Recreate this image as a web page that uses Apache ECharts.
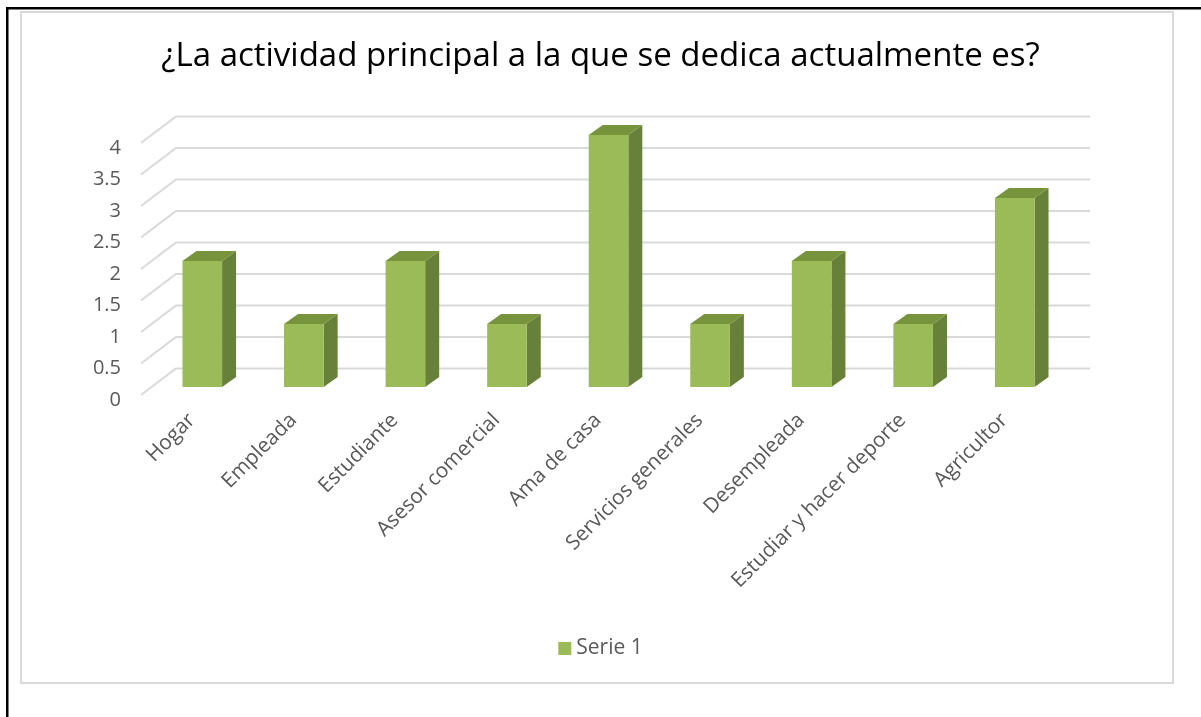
<!DOCTYPE html>
<html>
<head>
<meta charset="utf-8">
<script src="https://cdn.jsdelivr.net/npm/echarts@6/dist/echarts.min.js"></script>
<style>
html,body{margin:0;padding:0;background:#fff;}
#chart{width:1201px;height:717px;}
</style>
</head>
<body>
<div id="chart"></div>
<script>
const titleText = '¿La actividad principal a la que se dedica actualmente es?';
const categories = ['Hogar','Empleada','Estudiante','Asesor comercial','Ama de casa','Servicios generales','Desempleada','Estudiar y hacer deporte','Agricultor'];
const serieName = 'Serie 1';
const values = [2, 1, 2, 1, 4, 1, 2, 1, 3];
const yTicks = [0, 0.5, 1, 1.5, 2, 2.5, 3, 3.5, 4];

const FONT = 'Open Sans';
const DX = 35, DY = -26.6;      // wall depth
const F1 = 0.3;                 // bar front depth fraction
const BDX = 14, BDY = -10;      // bar depth
const COL_FRONT = '#9BBB59', COL_SIDE = '#67803A', COL_TOP = '#77933C';

const chart = echarts.init(document.getElementById('chart'), null, {renderer:'canvas'});
chart.setOption({
  animation: false,
  backgroundColor: '#fff',
  textStyle: {fontFamily: FONT},
  title: {
    text: titleText, left: 'center', top: 35,
    textStyle: {fontFamily: FONT, fontSize: 33, fontWeight: 'normal', color: '#000'}
  },
  graphic: [
    {type:'rect', shape:{x:21, y:12, width:1152, height:671}, style:{fill:'none', stroke:'#D9D9D9', lineWidth:2}, silent:true, z:-10},
    {type:'rect', shape:{x:6, y:7, width:2.5, height:720}, style:{fill:'#000'}, silent:true},
    {type:'rect', shape:{x:6, y:7, width:1200, height:2.5}, style:{fill:'#000'}, silent:true}
  ],
  legend: {
    data: [serieName], left: 'center', top: 633,
    icon: 'rect', itemWidth: 13, itemHeight: 13, itemGap: 6,
    textStyle: {fontFamily: FONT, fontSize: 21, color: '#595959'}
  },
  grid: {left: 141, right: 146, top: 143, bottom: 322, containLabel: false},
  xAxis: {
    type: 'category', data: categories,
    axisLine: {show:false}, axisTick: {show:false}, splitLine: {show:false},
    axisLabel: {rotate: 45, margin: 22, interval: 0, fontFamily: FONT, fontSize: 20.7, color: '#595959'}
  },
  yAxis: {
    type: 'value', min: 0, max: 4, interval: 0.5,
    axisLine: {show:false}, axisTick: {show:false}, splitLine: {show:false},
    axisLabel: {
      margin: 20, formatter: '{v|{value}}',
      rich: {v: {padding: [10, 0, 0, 0], fontFamily: FONT, fontSize: 20, color: '#595959'}}
    }
  },
  series: [
    {
      type: 'custom', name: 'grid', silent: true, z: 1,
      data: yTicks.map(v => [0, v]),
      renderItem: function (params, api) {
        const cs = params.coordSys;
        const y = api.coord([0, api.value(1)])[1];
        const x0 = cs.x, x1 = cs.x + cs.width;
        return {
          type: 'polyline',
          shape: {points: [[x0, y], [x0 + DX, y + DY], [x1 + DX, y + DY]]},
          style: {stroke: '#D9D9D9', lineWidth: 2, fill: null}
        };
      }
    },
    {
      type: 'custom', name: serieName, z: 2,
      itemStyle: {color: COL_FRONT},
      data: values.map((v, i) => [i, v]),
      renderItem: function (params, api) {
        const i = api.value(0), v = api.value(1);
        const pTop = api.coord([i, v]);
        const pBase = api.coord([i, 0]);
        const w = api.size([1, 0])[0] * 0.39;
        const ox = DX * F1, oy = DY * F1;
        const xl = pTop[0] - w / 2 + ox, xr = pTop[0] + w / 2 + ox;
        const yt = pTop[1] + oy, yb = pBase[1] + oy;
        return {
          type: 'group',
          children: [
            {type: 'polygon', shape: {points: [[xr, yt], [xr + BDX, yt + BDY], [xr + BDX, yb + BDY], [xr, yb]]},
             style: {fill: COL_SIDE}},
            {type: 'polygon', shape: {points: [[xl, yt], [xl + BDX, yt + BDY], [xr + BDX, yt + BDY], [xr, yt]]},
             style: {fill: COL_TOP}},
            {type: 'rect', shape: {x: xl, y: yt, width: xr - xl, height: yb - yt},
             style: {fill: COL_FRONT}}
          ]
        };
      }
    }
  ]
});
</script>
</body>
</html>
